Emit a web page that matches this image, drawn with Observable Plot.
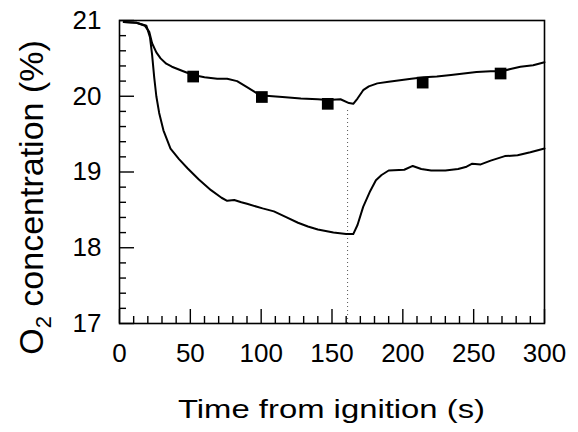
<!DOCTYPE html>
<html>
<head>
<meta charset="utf-8">
<script src="https://cdn.jsdelivr.net/npm/d3@7"></script>
<script src="https://cdn.jsdelivr.net/npm/@observablehq/plot@0.6"></script>
<style>
  html, body { margin: 0; padding: 0; background: #fff; }
</style>
</head>
<body>
<div id="chart"></div>
<script>
// Upper curve (with square markers)
const upperTime = [3, 12, 18, 21, 23, 26, 29, 33, 37, 45, 52, 60, 69, 76, 83, 90, 96, 101, 115, 128, 140, 147, 156, 162, 165, 168, 172, 176, 182, 190, 198, 206, 215, 224, 234, 243, 252, 262, 270, 276, 283, 292, 300];
const upperO2   = [20.98, 20.97, 20.93, 20.85, 20.70, 20.58, 20.50, 20.43, 20.39, 20.33, 20.28, 20.25, 20.23, 20.23, 20.20, 20.12, 20.05, 20.01, 19.99, 19.97, 19.96, 19.95, 19.96, 19.91, 19.90, 19.97, 20.08, 20.13, 20.17, 20.19, 20.21, 20.23, 20.25, 20.26, 20.28, 20.30, 20.32, 20.33, 20.33, 20.36, 20.39, 20.41, 20.45];
// Lower curve
const lowerTime = [3, 12, 19, 21.5, 23, 24.5, 26, 28, 31, 36, 42, 48, 56, 64.6, 72, 76, 81, 86, 90, 101, 109, 118, 126, 133, 140, 151, 160, 165, 168, 172, 177, 181, 185, 190, 201, 207, 213, 220, 230, 239, 245, 249, 255, 262, 272, 281, 290, 300];
const lowerO2   = [20.98, 20.97, 20.93, 20.78, 20.55, 20.25, 20.0, 19.78, 19.55, 19.31, 19.17, 19.05, 18.9, 18.76, 18.66, 18.62, 18.63, 18.60, 18.58, 18.52, 18.48, 18.40, 18.33, 18.28, 18.24, 18.20, 18.18, 18.18, 18.30, 18.54, 18.75, 18.89, 18.96, 19.02, 19.03, 19.08, 19.04, 19.02, 19.02, 19.04, 19.07, 19.11, 19.10, 19.15, 19.21, 19.22, 19.26, 19.31];
// Square markers
const markerTime = [52, 100.5, 147, 214, 269];
const markerO2   = [20.26, 19.99, 19.90, 20.18, 20.30];
// Dotted vertical line (end of fire)
const dividerTime = 161;
const dividerTop = 19.85;
// Axes
const xTicks = [0, 50, 100, 150, 200, 250, 300];
const xMinor = d3.range(10, 300, 10).filter(d => d % 50 !== 0);
const yTicks = [17, 18, 19, 20, 21];
const yMinor = d3.range(17.2, 21, 0.2).map(d => +d.toFixed(1)).filter(d => Math.abs(d - Math.round(d)) > 1e-6);
const xLabel = "Time from ignition (s)";

const upper = upperTime.map((t, i) => ({t, v: upperO2[i]}));
const lower = lowerTime.map((t, i) => ({t, v: lowerO2[i]}));
const markers = markerTime.map((t, i) => ({t, v: markerO2[i]}));

const font = "'Liberation Sans', Arial, Helvetica, sans-serif";
const plotH = 303, plotW = 425;

const svg = Plot.plot({
  width: 578,
  height: 432,
  marginLeft: 119,
  marginRight: 34,
  marginTop: 20,
  marginBottom: 109,
  style: {fontFamily: font, fontSize: "26px", color: "black", background: "white"},
  x: {domain: [0, 300]},
  y: {domain: [17, 21]},
  marks: [
    Plot.axisX({ticks: xTicks, tickSize: 0, tickPadding: 20, label: null, fontSize: 26}),
    Plot.axisY({ticks: yTicks, tickSize: 0, tickPadding: 18, label: null, fontSize: 26, tickFormat: d => String(d)}),
    Plot.tickX(xMinor, {x: d => d, insetTop: plotH - 7, stroke: "black", strokeWidth: 1.4}),
    Plot.tickX(xTicks, {x: d => d, insetTop: plotH - 14, stroke: "black", strokeWidth: 1.4}),
    Plot.tickY(yMinor, {y: d => d, insetRight: plotW - 7, stroke: "black", strokeWidth: 1.4}),
    Plot.tickY(yTicks, {y: d => d, insetRight: plotW - 15, stroke: "black", strokeWidth: 1.4}),
    Plot.ruleX([dividerTime], {x: d => d, y1: 17, y2: dividerTop, stroke: "#555", strokeWidth: 1, strokeDasharray: "1,3"}),
    Plot.line(lower, {x: "t", y: "v", stroke: "black", strokeWidth: 2}),
    Plot.line(upper, {x: "t", y: "v", stroke: "black", strokeWidth: 2}),
    Plot.dot(markers, {x: "t", y: "v", symbol: "square", r: 6.6, fill: "black", stroke: "none"}),
    Plot.frame({stroke: "black", strokeWidth: 1.6})
  ]
});

const s = d3.select(svg);
// X axis title (stretched horizontally like the original)
s.append("text")
  .attr("x", 331.5)
  .attr("y", 418)
  .attr("text-anchor", "middle")
  .attr("font-family", font)
  .attr("font-size", 25)
  .attr("fill", "black")
  .attr("textLength", 307)
  .attr("lengthAdjust", "spacingAndGlyphs")
  .text(xLabel);

// Y axis title with subscript
const yl = s.append("text")
  .attr("transform", "translate(43,197.5) rotate(-90)")
  .attr("text-anchor", "middle")
  .attr("font-family", font)
  .attr("font-size", 34)
  .attr("fill", "black");
yl.append("tspan").text("O");
yl.append("tspan").attr("font-size", 22).attr("dy", 8).text("2");
yl.append("tspan").attr("dy", -8).text(" concentration (%)");

document.getElementById("chart").appendChild(svg);
</script>
</body>
</html>
